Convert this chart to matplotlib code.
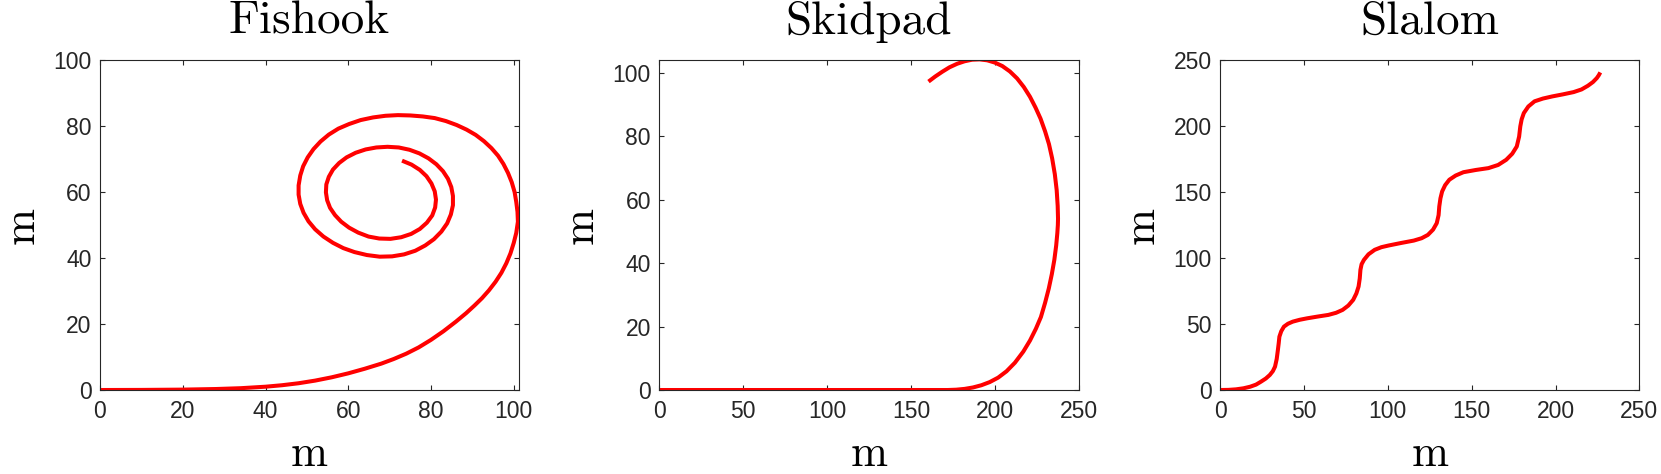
import numpy as np
import matplotlib.pyplot as plt

# trajetorias (m)
fish_x = [0, 10, 20, 28, 34, 40, 44, 48, 52, 56, 60, 64, 68, 71, 74, 77, 80, 83, 86, 88.5,
          90.5, 92.3, 94, 95.6, 97, 98.2, 99.2, 100.0, 100.6,
          101.0, 100.9, 100.6, 100.2, 99.5, 98.6, 97.5, 96.2, 94.6, 92.8, 90.8, 88.6, 86.2, 83.6, 80.9,
          78.0, 75.0, 72.0, 69.0, 66.0, 63.0, 60.2, 57.6, 55.3, 53.3, 51.6, 50.2, 49.1, 48.4, 48.0, 48.0,
          48.4, 49.2, 50.4, 52.0, 54.0, 56.3, 58.8, 61.5, 64.5, 67.6, 70.6, 73.5, 76.2, 78.6, 80.7, 82.5,
          83.9, 84.8, 85.3, 85.3, 84.9, 84.1, 82.9, 81.3, 79.4, 77.2, 74.8, 72.2, 69.5, 66.8, 64.2, 61.8,
          59.6, 57.8, 56.3, 55.3, 54.7, 54.6, 54.9, 55.6, 56.8, 58.3, 60.2, 62.4, 64.9, 67.5, 70.2, 72.8,
          75.2, 77.3, 79.0, 80.3, 81.0, 81.2, 80.9, 80.1, 78.9, 77.3, 75.3, 73.0]
fish_y = [0, 0.03, 0.12, 0.3, 0.55, 1.0, 1.45, 2.05, 2.85, 3.85, 5.05, 6.45, 8.0, 9.4, 11.0, 12.9, 15.2,
          17.8, 20.7, 23.3, 25.6, 27.8, 30.2, 32.8, 35.5, 38.4, 41.4, 44.6, 47.6,
          51.0, 54.0, 57.0, 60.0, 63.0, 65.8, 68.5, 71.0, 73.3, 75.4, 77.3, 78.9, 80.3, 81.5, 82.4,
          82.9, 83.2, 83.3, 83.1, 82.6, 81.8, 80.6, 79.2, 77.4, 75.3, 73.0, 70.5, 67.8, 65.0, 62.0, 59.2,
          56.4, 53.7, 51.1, 48.7, 46.5, 44.6, 43.0, 41.8, 40.9, 40.4, 40.5, 41.1, 42.2, 43.8, 45.7, 48.0,
          50.5, 53.2, 56.0, 58.8, 61.5, 64.0, 66.3, 68.4, 70.2, 71.7, 72.8, 73.5, 73.7, 73.5, 72.9, 71.9,
          70.5, 68.8, 66.8, 64.6, 62.3, 59.9, 57.5, 55.2, 53.0, 51.0, 49.2, 47.7, 46.5, 45.9, 45.8, 46.3,
          47.3, 48.8, 50.7, 52.9, 55.3, 57.7, 60.2, 62.6, 64.8, 66.7, 68.3, 69.5]

skid_x = [0, 50, 100, 150, 172, 177, 182, 187, 192, 197, 202, 207, 212, 217, 221, 224.5, 227.5,
          230, 232.2, 234, 235.5, 236.6, 237.3, 237.6, 237.7, 237.5, 236.9, 235.8, 234.2, 232.3, 230,
          227.3, 224.3, 221, 217.3, 213.3, 209, 204.5, 200, 195.5, 191, 186.5, 182, 177.5, 173, 168.7,
          164.5, 160.5]
skid_y = [0, 0, 0, 0, 0, 0.1, 0.35, 0.8, 1.5, 2.5, 3.9, 5.9, 8.6, 12.1, 15.6, 19.3, 23.0,
          27.5, 32.0, 36.5, 41.0, 45.5, 49.5, 52.0, 54.0, 58.0, 63.0, 68.0, 73.0, 77.5, 81.5,
          85.5, 89.0, 92.4, 95.5, 98.2, 100.4, 102.1, 103.2, 103.9, 104.2, 104.1, 103.6, 102.8, 101.7, 100.3,
          98.8, 97.2]

slal_x = [0, 5, 9.5, 14, 18, 21.5, 24.4, 27.3, 29.7, 31.5, 32.8, 33.8, 34.5, 35.0, 35.4, 36.5, 38.1, 40.5, 43.4,
          47.5, 51.9, 58, 64.6, 69.2, 73.1, 76.5, 79.4, 81.3, 82.6, 83.3, 83.7, 84.4, 85.8, 88.5, 92.2,
          96.2, 100.6, 108, 115.5, 120.2, 123.9, 127, 129.2, 130.3, 130.7, 131.4, 132.4, 134.2, 136.7,
          140.5, 145.1, 152.5, 160, 165.8, 170.6, 174.2, 176.9, 178.3, 179, 179.8, 181.1, 183.8, 187.5,
          192.5, 198, 204.5, 210.8, 215.5, 219.3, 222.3, 224.6, 225.8, 226.7]
slal_y = [0, 0.1, 0.5, 1.3, 2.5, 4.1, 6.3, 8.7, 11.4, 14.3, 17.7, 23.5, 30.3, 35.5, 40.4, 44.5, 48.0, 50.2, 51.8,
          53.2, 54.3, 55.6, 56.9, 58.5, 60.7, 64.0, 68.3, 73.2, 78.4, 84.5, 91.0, 95.3, 98.6, 102.8, 106.2,
          108.2, 109.5, 111.4, 113.2, 115.0, 117.5, 121.5, 126.4, 132.5, 139.0, 145.2, 150.4, 155.2, 159.3,
          162.5, 165.0, 166.7, 168.1, 170.5, 174.4, 179.0, 184.5, 192.0, 199.7, 205.0, 209.8, 214.8, 218.7,
          220.8, 222.4, 224.0, 225.7, 227.7, 230.5, 233.3, 236.3, 238.5, 240.6]

titulos = ['Fishook', 'Skidpad', 'Slalom']
dados = [(fish_x, fish_y), (skid_x, skid_y), (slal_x, slal_y)]
limites = [((0, 101.2), (0, 100)), ((0, 250), (0, 104)), ((0, 250), (0, 250))]
ticks = [(np.arange(0, 101, 20), np.arange(0, 101, 20)),
         (np.arange(0, 251, 50), np.arange(0, 101, 20)),
         (np.arange(0, 251, 50), np.arange(0, 251, 50))]
lefts = [0.0602, 0.3969, 0.7345]
larguras = [0.2521, 0.2525, 0.2525]

fig = plt.figure(figsize=(16.61, 4.74), dpi=100)
cinza = '#262626'

for i in range(3):
    ax = fig.add_axes([lefts[i], 0.1772, larguras[i], 0.6962])
    ax.plot(dados[i][0], dados[i][1], color='#ff0000', lw=2.9, solid_capstyle='butt',
            solid_joinstyle='round')
    ax.set_xlim(limites[i][0])
    ax.set_ylim(limites[i][1])
    ax.set_xticks(ticks[i][0])
    ax.set_yticks(ticks[i][1])
    ax.tick_params(direction='in', top=True, right=True, length=3.6, width=0.8, colors=cinza,
                   labelsize=16.5)
    ax.tick_params(axis='x', pad=7)
    ax.tick_params(axis='y', pad=6)
    for lab in ax.get_xticklabels() + ax.get_yticklabels():
        lab.set_family('Liberation Sans')
    for s in ax.spines.values():
        s.set_color(cinza)
        s.set_linewidth(0.8)
    ax.set_title(titulos[i], fontfamily='cmr10', fontsize=34, pad=19)
    ax.set_xlabel('m', fontfamily='cmr10', fontsize=32, labelpad=9)
    ax.set_ylabel('m', fontfamily='cmr10', fontsize=32, labelpad=8)

fig.savefig('out.png', dpi=100)
